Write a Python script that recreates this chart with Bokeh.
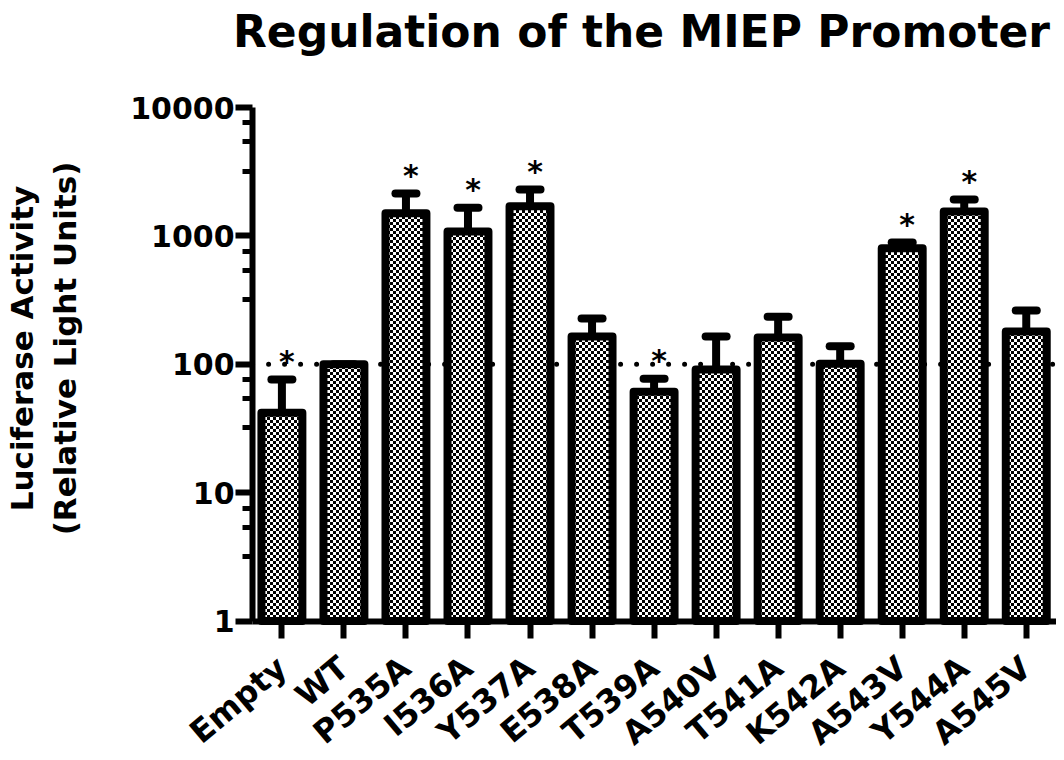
import math, zlib, struct, base64
from bokeh.plotting import figure
from bokeh.models import (ColumnDataSource, Range1d, FixedTicker, NumeralTickFormatter,
                          Whisker, TeeHead, ImageURLTexture, Label)
from bokeh.core.properties import value
from bokeh.embed import file_html
from bokeh.resources import INLINE

# ---- data ----
categories = ["Empty", "WT", "P535A", "I536A", "Y537A", "E538A", "T539A",
              "A540V", "T541A", "K542A", "A543V", "Y544A", "A545V"]
means = [42, 100, 1500, 1080, 1700, 165, 61, 91, 162, 101, 800, 1550, 180]
upper_err = [76, 100, 2140, 1660, 2300, 227, 77, 165, 235, 138, 890, 1920, 262]
significance = ["*", "", "*", "*", "*", "", "*", "", "", "", "*", "*", ""]
y_ticks = [1, 10, 100, 1000, 10000]
y_minor = [3.2, 5.4, 7.6, 32, 54, 76, 320, 540, 760, 3200, 5400, 7600]
y_bounds = (1, 10000)
reference_level = 100
title_text = "Regulation of the MIEP Promoter"
y_label = "Luciferase Activity\n(Relative Light Units)"

FONT = "DejaVu Sans"

# ---- layout (pixels on the 1056 x 760 canvas) ----
W, H = 1056, 760
CAT_PX = 62.03         # spacing between bar centres
FIRST_PX = 281.4       # centre of the first bar
AXIS_PX = 252.1        # y-axis line
DECADE_PX = 128.4
TOP_PX = 107           # y of 10000


def px_to_x(px):
    return (px - FIRST_PX) / CAT_PX


def px_to_y(py):
    return 10 ** (4 - (py - TOP_PX) / DECADE_PX)


X_START, X_END = px_to_x(0), px_to_x(W)
AXIS_X = px_to_x(AXIS_PX)


def checker_png(n=3):
    size = 2 * n
    raw = b""
    for yy in range(size):
        row = bytearray([0])
        for xx in range(size):
            row.append(0 if ((xx // n) + (yy // n)) % 2 == 0 else 255)
        raw += bytes(row)

    def chunk(t, d):
        return struct.pack(">I", len(d)) + t + d + struct.pack(">I", zlib.crc32(t + d) & 0xffffffff)

    ihdr = struct.pack(">IIBBBBB", size, size, 8, 0, 0, 0, 0)
    png = b"\x89PNG\r\n\x1a\n" + chunk(b"IHDR", ihdr) + chunk(b"IDAT", zlib.compress(raw)) + chunk(b"IEND", b"")
    return "data:image/png;base64," + base64.b64encode(png).decode()


idx = list(range(len(categories)))
src = ColumnDataSource(dict(x=idx, cat=categories, mean=means, upper=upper_err,
                            bottom=[y_bounds[0]] * len(categories), sig=significance,
                            star_y=[max(u, m) for u, m in zip(upper_err, means)]))

p = figure(width=W, height=H, x_range=Range1d(X_START, X_END),
           y_range=Range1d(px_to_y(H), px_to_y(0)), y_axis_type="log",
           output_backend="svg", toolbar_location=None,
           min_border_left=0, min_border_right=0, min_border_top=0, min_border_bottom=0)
p.outline_line_color = None
p.xgrid.grid_line_color = None
p.ygrid.grid_line_color = None
p.background_fill_color = "white"
p.border_fill_color = "white"

# dotted reference line, from the y axis to the right edge
p.segment(x0=[AXIS_X], x1=[X_END], y0=[reference_level], y1=[reference_level],
          line_color="black", line_width=5, line_dash="0 16", line_cap="round")

checker = ImageURLTexture(url=checker_png(3), repetition="repeat")

p.vbar(x="x", top="mean", bottom="bottom", width=0.66, source=src,
       fill_color="white", line_color="black", line_width=8, line_join="round",
       hatch_pattern=value("checker"), hatch_extra={"checker": checker},
       hatch_scale=6, hatch_color="black")

w = Whisker(base="x", lower="mean", upper="upper", source=src, dimension="height",
            line_color="black", line_width=8,
            upper_head=TeeHead(size=21, line_width=8, line_color="black", line_cap="round"),
            lower_head=None)
p.add_layout(w)

p.text(x="x", y="star_y", text="sig", source=src, text_font=value(FONT),
       text_font_style="bold", text_font_size="30px", text_align="center",
       text_baseline="alphabetic", y_offset=-18, x_offset=5, color="black")

# axes styling
for ax in (p.xaxis[0], p.yaxis[0]):
    ax.axis_line_width = 6
    ax.axis_line_color = "black"
    ax.major_tick_line_width = 6
    ax.major_tick_line_color = "black"
    ax.major_tick_out = 17
    ax.major_tick_in = 0
    ax.major_label_text_font = FONT
    ax.major_label_text_font_style = "bold"
    ax.major_label_text_color = "black"

yax = p.yaxis[0]
yax.fixed_location = AXIS_X
yax.bounds = y_bounds
yax.ticker = FixedTicker(ticks=y_ticks, minor_ticks=y_minor)
yax.formatter = NumeralTickFormatter(format="0")
yax.minor_tick_line_width = 5
yax.minor_tick_line_color = "black"
yax.minor_tick_out = 10
yax.minor_tick_in = 0
yax.major_label_standoff = 1
yax.major_label_text_font_size = "30px"

xax = p.xaxis[0]
xax.fixed_location = y_bounds[0]
xax.bounds = (AXIS_X, X_END)
xax.ticker = FixedTicker(ticks=idx, minor_ticks=[])
xax.major_label_overrides = {i: c for i, c in zip(idx, categories)}
xax.major_label_orientation = math.radians(40)
xax.major_label_standoff = 25
xax.major_label_text_font_size = "32px"
xax.minor_tick_line_color = None

# y axis title (two lines, rotated)
p.add_layout(Label(x=px_to_x(43), y=px_to_y(348), text=y_label, angle=math.pi / 2,
                   text_font=FONT, text_font_style="bold", text_font_size="31px",
                   text_color="black", text_align="center", text_baseline="middle"))

# chart title
p.add_layout(Label(x=px_to_x(641), y=px_to_y(31), text=title_text,
                   text_font=FONT, text_font_style="bold", text_font_size="44px",
                   text_color="black", text_align="center", text_baseline="alphabetic"))

open("out.html", "w").write(file_html(p, INLINE))
